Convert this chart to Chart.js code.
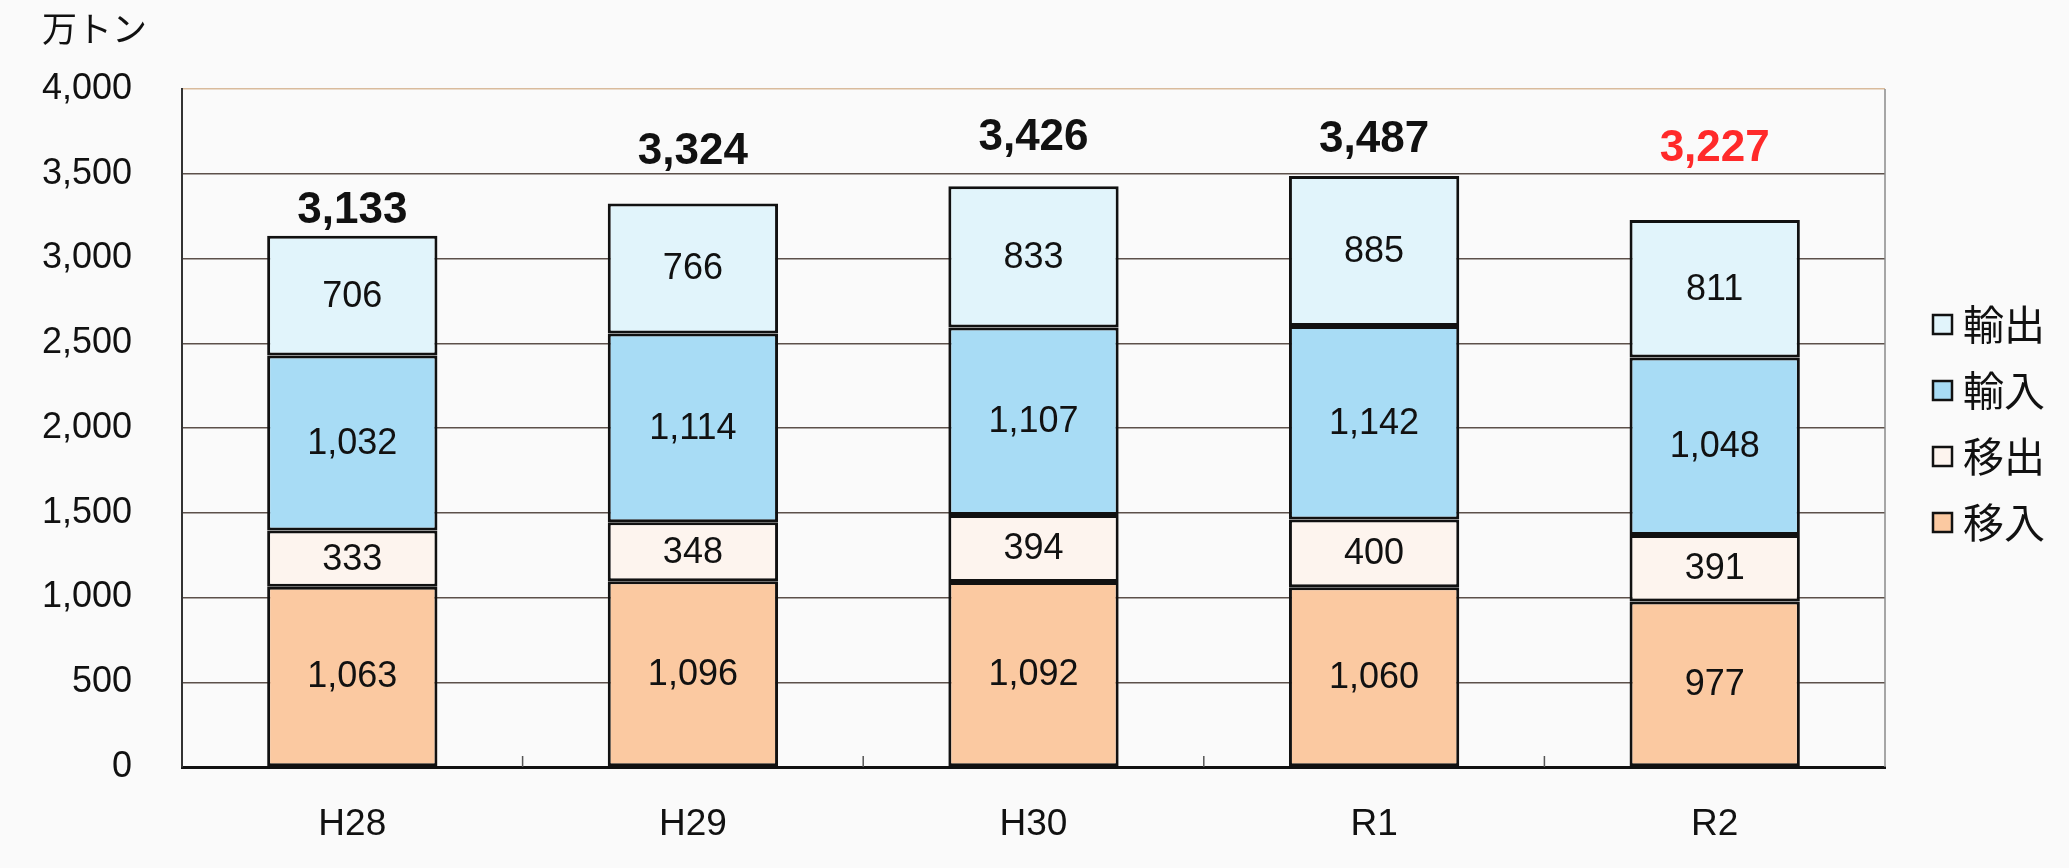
<!DOCTYPE html>
<html>
<head>
<meta charset="utf-8">
<script src="https://cdn.jsdelivr.net/npm/chart.js@4.4.1/dist/chart.umd.min.js"></script>
<style>
  html, body { margin: 0; padding: 0; background: #fafafa; }
  #wrap { width: 2069px; height: 868px; position: relative; }
  canvas { display: block; }
</style>
</head>
<body>
<div id="wrap"><canvas id="c" width="2069" height="868"></canvas></div>
<script>
// ---- data ----
const categories = ['H28', 'H29', 'H30', 'R1', 'R2'];
const seriesNames = ['移入', '移出', '輸入', '輸出'];
const inMove   = [1063, 1096, 1092, 1060, 977];   // 移入
const outMove  = [333, 348, 394, 400, 391];       // 移出
const imports  = [1032, 1114, 1107, 1142, 1048];  // 輸入
const exports_ = [706, 766, 833, 885, 811];       // 輸出
const totalLabels = ['3,133', '3,324', '3,426', '3,487', '3,227'];
const yTicks = [0, 500, 1000, 1500, 2000, 2500, 3000, 3500, 4000];
const unitLabel = '万トン';

// ---- styles ----
const seriesColors = ['#fbc9a1', '#fdf4ee', '#a8dcf5', '#e1f4fb'];
const totalColors = ['#111', '#111', '#111', '#111', '#ff2a2a'];
const totalOffsets = [25, 52, 48, 36, 71];
const NUM_FONT = '"Liberation Sans", Arial, "Noto Sans CJK JP", sans-serif';
const CJK_FONT = '"Noto Sans CJK JP", "Noto Sans CJK SC", sans-serif';

const fmt = v => v.toLocaleString('en-US');

const seriesData = [inMove, outMove, imports, exports_];
const datasets = seriesNames.map((name, i) => ({
  label: name,
  data: seriesData[i],
  backgroundColor: seriesColors[i],
  borderColor: '#111',
  borderWidth: 3,
  borderSkipped: false,
  barPercentage: 0.5,
  categoryPercentage: 1.0,
  stack: 's'
}));

const decorPlugin = {
  id: 'decor',
  beforeDatasetsDraw(chart) {
    const { ctx, chartArea, scales } = chart;
    ctx.save();
    ctx.strokeStyle = '#8a8a8a';
    ctx.lineWidth = 1.5;
    ctx.beginPath();
    ctx.moveTo(chartArea.right, chartArea.top);
    ctx.lineTo(chartArea.right, chartArea.bottom);
    ctx.stroke();
    const xs = scales.x;
    ctx.strokeStyle = '#555';
    ctx.lineWidth = 1.5;
    for (let i = 1; i < categories.length; i++) {
      const bx = (xs.getPixelForValue(i - 1) + xs.getPixelForValue(i)) / 2;
      ctx.beginPath();
      ctx.moveTo(bx, chartArea.bottom);
      ctx.lineTo(bx, chartArea.bottom - 11);
      ctx.stroke();
    }
    ctx.restore();
  },
  afterDatasetsDraw(chart) {
    const { ctx } = chart;
    ctx.save();
    ctx.textAlign = 'center';
    ctx.textBaseline = 'middle';
    ctx.font = '36px ' + NUM_FONT;
    ctx.fillStyle = '#111';
    chart.data.datasets.forEach((ds, di) => {
      const meta = chart.getDatasetMeta(di);
      meta.data.forEach((bar, j) => {
        const cy = (bar.y + bar.base) / 2;
        ctx.fillText(fmt(ds.data[j]), bar.x, cy + 1);
      });
    });
    const topMeta = chart.getDatasetMeta(chart.data.datasets.length - 1);
    ctx.font = 'bold 44px ' + NUM_FONT;
    topMeta.data.forEach((bar, j) => {
      ctx.fillStyle = totalColors[j];
      ctx.fillText(totalLabels[j], bar.x, bar.y - totalOffsets[j]);
    });
    ctx.fillStyle = '#111';
    ctx.textAlign = 'left';
    ctx.font = '35px ' + CJK_FONT;
    ctx.fillText(unitLabel, 42, 29);
    const lx = chart.chartArea.right + 48;
    const ly0 = 324, step = 66;
    for (let k = 0; k < seriesNames.length; k++) {
      const si = seriesNames.length - 1 - k;
      const y = ly0 + k * step;
      ctx.fillStyle = seriesColors[si];
      ctx.fillRect(lx, y - 9, 19, 19);
      ctx.strokeStyle = '#111';
      ctx.lineWidth = 2.5;
      ctx.strokeRect(lx, y - 9, 19, 19);
      ctx.fillStyle = '#111';
      ctx.font = '41px ' + CJK_FONT;
      ctx.textBaseline = 'middle';
      ctx.fillText(seriesNames[si], lx + 30, y);
    }
    ctx.restore();
  }
};

new Chart(document.getElementById('c'), {
  type: 'bar',
  data: { labels: categories, datasets },
  options: {
    responsive: false,
    animation: false,
    layout: { padding: { top: 89, right: 184, left: 0, bottom: 0 } },
    plugins: { legend: { display: false }, tooltip: { enabled: false } },
    scales: {
      x: {
        stacked: true,
        grid: { display: false },
        border: { display: true, color: '#111', width: 3 },
        ticks: { color: '#111', font: { size: 37, family: NUM_FONT }, padding: 28 },
        afterFit(s) { s.height = 101; }
      },
      y: {
        stacked: true,
        min: 0,
        max: 4000,
        afterBuildTicks(s) { s.ticks = yTicks.map(v => ({ value: v })); },
        grid: {
          drawTicks: false,
          color: c => (c.tick && c.tick.value === 4000) ? '#d9bb9c' : '#5c504a',
          lineWidth: 1.5
        },
        border: { display: true, color: '#333', width: 2 },
        ticks: {
          color: '#111',
          padding: 50,
          font: { size: 36, family: NUM_FONT },
          callback: v => fmt(v)
        },
        afterFit(s) { s.width = 182; }
      }
    }
  },
  plugins: [decorPlugin]
});
</script>
</body>
</html>
